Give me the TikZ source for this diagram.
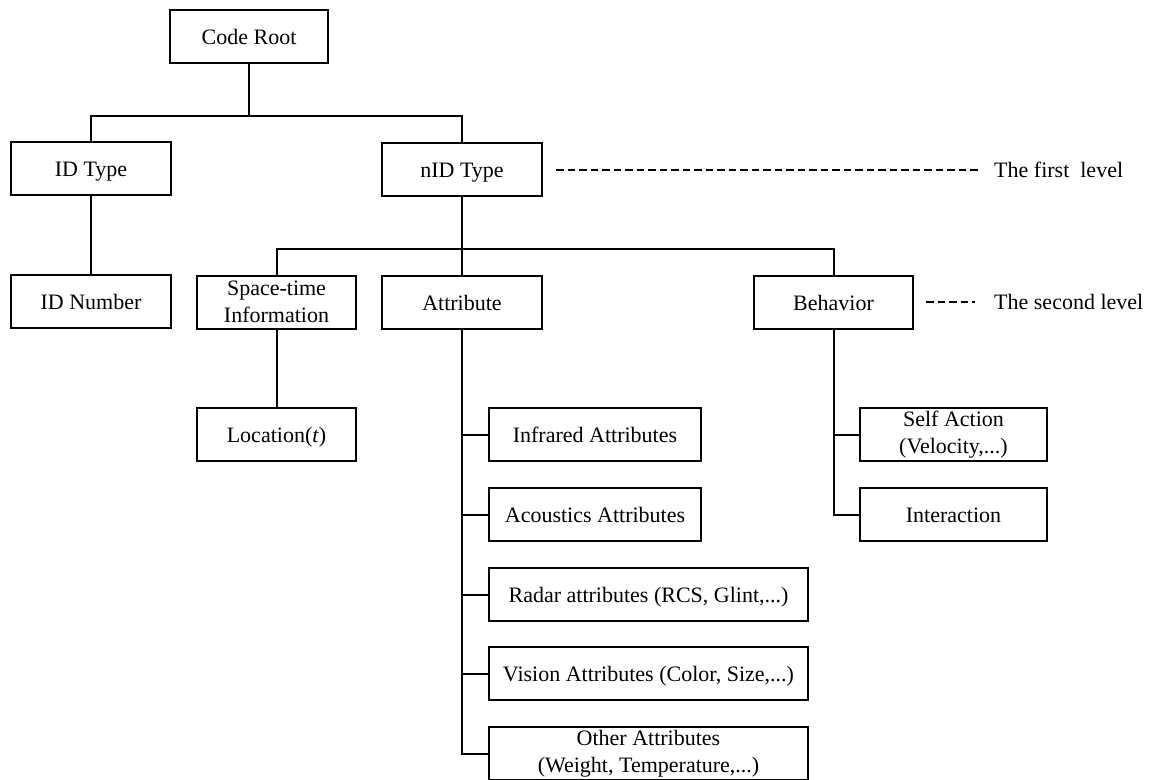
\documentclass[tikz,border=0pt]{standalone}
\usepackage{fontspec}
\setmainfont{Liberation Serif}
\begin{document}
\begin{tikzpicture}[x=1pt,y=-1pt,
  box/.style={draw=black, line width=2pt, fill=white, inner sep=0pt,
    minimum height=53pt, align=center, font=\fontsize{22}{26.5}\selectfont},
  one/.style={text height=18pt, text depth=2pt},
  conn/.style={line width=2pt, line cap=rect},
  lvl/.style={line width=2pt, dash pattern=on 7.5pt off 4pt},
  lbl/.style={anchor=west, inner sep=0pt, font=\fontsize{22}{26.5}\selectfont}]
\useasboundingbox[fill=white] (0,0) rectangle (1150,779);
% nodes
\node[box, one, minimum width=158pt] (root) at (249,36.5) {Code Root};
\node[box, one, minimum width=160pt] (idtype) at (91,168.5) {ID Type};
\node[box, one, minimum width=160pt] (nid) at (462,169.5) {nID Type};
\node[box, one, minimum width=160pt] (idnum) at (91,301.5) {ID Number};
\node[box, minimum width=159pt] (space) at (276.5,302) {Space-time\\Information};
\node[box, one, minimum width=160pt] (attr) at (462,302) {Attribute};
\node[box, one, minimum width=159pt] (behav) at (833.5,302) {Behavior};
\node[box, one, minimum width=159pt] (loc) at (276.5,434.5) {Location(\textit{t})};
\node[box, one, minimum width=212pt] (infra) at (595,434.5) {Infrared Attributes};
\node[box, one, minimum width=212pt] (acou) at (595,514.5) {Acoustics Attributes};
\node[box, one, minimum width=319pt] (radar) at (648.5,594.5) {Radar attributes (RCS, Glint,...)};
\node[box, one, minimum width=319pt] (vision) at (648.5,673.5) {Vision Attributes (Color, Size,...)};
\node[box, minimum width=319pt] (other) at (648.5,753.5) {Other Attributes\\(Weight, Temperature,...)};
\node[box, minimum width=187pt] (self) at (953.5,434.5) {Self Action\\(Velocity,...)};
\node[box, one, minimum width=187pt] (inter) at (953.5,514.5) {Interaction};
% junctions
\coordinate (j1) at (249,116);
\coordinate (j2) at (462,249);
% connectors
\draw[conn] (root.south) -- (j1);
\draw[conn] (idtype.north) |- (j1) -| (nid.north);
\draw[conn] (idtype.south) -- (idnum.north);
\draw[conn] (nid.south) -- (attr.north);
\draw[conn] (space.north) |- (j2) -| (behav.north);
\draw[conn] (space.south) -- (loc.north);
\draw[conn] (attr.south) |- (other.west);
\draw[conn] (attr.south) |- (infra.west);
\draw[conn] (attr.south) |- (acou.west);
\draw[conn] (attr.south) |- (radar.west);
\draw[conn] (attr.south) |- (vision.west);
\draw[conn] (behav.south) |- (inter.west);
\draw[conn] (behav.south) |- (self.west);
% level markers
\node[lbl] (l1) at (994,169.5) {The first \ level};
\node[lbl] (l2) at (994,302) {The second level};
\draw[lvl] ([xshift=13pt]nid.east) -- ([xshift=-15pt]l1.west);
\draw[lvl] ([xshift=12pt]behav.east) -- ([xshift=-19pt]l2.west);
\end{tikzpicture}
\end{document}
